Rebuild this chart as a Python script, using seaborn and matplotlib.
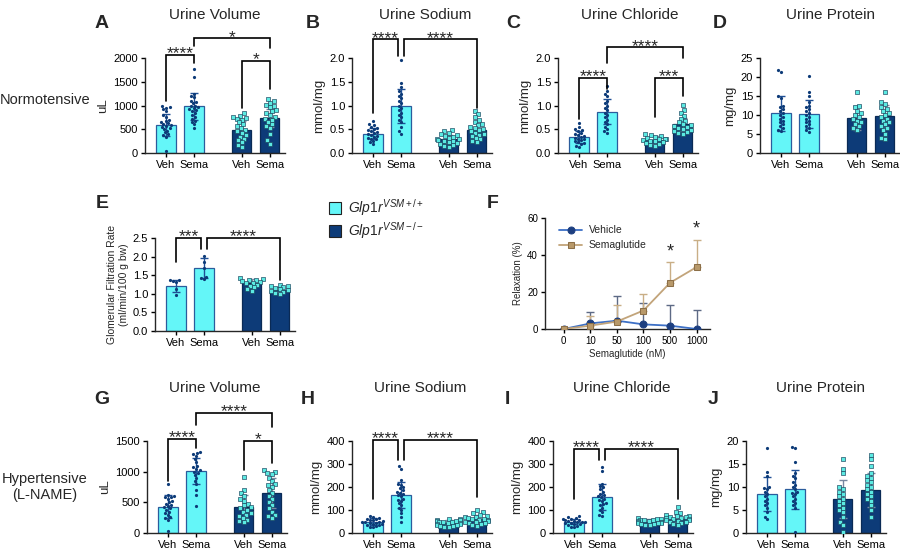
import warnings
import numpy as np
import pandas as pd
import seaborn as sns
from matplotlib import pyplot as plt
from matplotlib.patches import Patch

warnings.filterwarnings('ignore')

# group order in every bar panel: Veh(+/+), Sema(+/+), Veh(-/-), Sema(-/-)
pos = [0, 1, 2.7, 3.7]
xticklabels = ['Veh', 'Sema', 'Veh', 'Sema']

# --- Normotensive ---
a_pts = [[980, 960, 950, 920, 880, 800, 760, 700, 680, 640, 620, 600, 580, 560, 540, 520, 500, 470, 430, 400, 370, 340, 30],
         [1770, 1600, 1250, 1200, 1180, 1100, 1080, 1050, 1000, 980, 960, 940, 920, 900, 880, 840, 800, 760, 720, 680, 650, 600, 530],
         [840, 780, 760, 740, 720, 700, 640, 600, 560, 520, 480, 450, 420, 380, 340, 300, 260, 220, 160, 120],
         [1140, 1100, 1060, 1020, 980, 960, 900, 880, 840, 800, 760, 720, 700, 650, 600, 560, 520, 400, 260, 190]]
a_mean = [585, 980, 490, 735]
a_sd = [240, 290, 180, 190]

b_pts = [[0.67, 0.60, 0.58, 0.55, 0.52, 0.50, 0.48, 0.46, 0.44, 0.42, 0.40, 0.38, 0.36, 0.34, 0.32, 0.30, 0.28, 0.25, 0.22, 0.18],
         [1.96, 1.47, 1.40, 1.30, 1.25, 1.20, 1.15, 1.10, 1.05, 1.00, 0.95, 0.90, 0.85, 0.80, 0.75, 0.70, 0.65, 0.55, 0.45, 0.40],
         [0.48, 0.45, 0.42, 0.40, 0.38, 0.36, 0.34, 0.32, 0.30, 0.28, 0.26, 0.25, 0.24, 0.22, 0.20, 0.18, 0.16, 0.14, 0.12],
         [0.88, 0.82, 0.75, 0.70, 0.65, 0.60, 0.58, 0.55, 0.52, 0.50, 0.48, 0.45, 0.42, 0.40, 0.38, 0.35, 0.32, 0.28, 0.25, 0.22]]
b_mean = [0.40, 0.99, 0.29, 0.49]
b_sd = [0.12, 0.37, 0.09, 0.18]

c_pts = [[0.62, 0.55, 0.50, 0.48, 0.45, 0.42, 0.40, 0.38, 0.36, 0.34, 0.32, 0.30, 0.28, 0.26, 0.24, 0.22, 0.20, 0.18, 0.15, 0.12],
         [1.42, 1.30, 1.25, 1.20, 1.10, 1.05, 1.00, 0.95, 0.90, 0.85, 0.80, 0.75, 0.70, 0.65, 0.60, 0.55, 0.50, 0.45, 0.42],
         [0.40, 0.38, 0.36, 0.34, 0.32, 0.30, 0.29, 0.28, 0.26, 0.25, 0.24, 0.22, 0.20, 0.18, 0.16, 0.14],
         [1.02, 0.90, 0.84, 0.78, 0.72, 0.68, 0.64, 0.60, 0.58, 0.56, 0.54, 0.52, 0.50, 0.48, 0.46, 0.44, 0.42, 0.40]]
c_mean = [0.33, 0.87, 0.27, 0.60]
c_sd = [0.12, 0.27, 0.08, 0.14]

d_pts = [[22.0, 21.5, 15.0, 14.5, 12.5, 12.0, 11.5, 11.0, 10.5, 10.0, 9.5, 9.0, 8.5, 8.0, 7.5, 7.0, 6.5, 6.0, 5.8],
         [20.2, 16.0, 15.0, 13.5, 12.5, 12.0, 11.5, 11.0, 10.5, 10.0, 9.5, 9.0, 8.5, 8.0, 7.5, 7.0, 6.5, 6.0, 5.5],
         [16.0, 12.5, 12.0, 11.0, 10.5, 10.0, 9.5, 9.0, 8.5, 8.0, 7.5, 7.0, 6.5, 6.0],
         [16.0, 13.5, 13.0, 12.0, 11.5, 11.0, 10.5, 10.0, 9.5, 9.0, 8.5, 8.0, 7.5, 7.0, 6.5, 6.0, 5.0, 4.0, 3.5]]
d_mean = [10.4, 10.3, 9.2, 9.6]
d_sd = [4.6, 3.7, 3.1, 3.1]

e_pts = [[1.38, 1.36, 1.34, 1.32, 1.12, 0.96],
         [2.02, 1.86, 1.70, 1.46, 1.42, 1.39],
         [1.42, 1.40, 1.38, 1.36, 1.35, 1.33, 1.30, 1.28, 1.25, 1.22, 1.18, 1.12, 1.08],
         [1.24, 1.22, 1.20, 1.18, 1.15, 1.12, 1.10, 1.08, 1.06, 1.02, 1.00]]
e_mean = [1.21, 1.69, 1.30, 1.11]
e_sd = [0.15, 0.27, 0.10, 0.07]

# --- vessel relaxation (F) ---
doses = ['0', '10', '50', '100', '500', '1000']
veh_relax = [0, 3.0, 4.5, 2.5, 1.8, 0]
veh_relax_sd = [0, 6.0, 13.5, 11.5, 11.3, 10.5]
sema_relax = [0, 1.8, 4.0, 10.0, 25.0, 33.5]
sema_relax_sd = [0, 5.0, 9.0, 9.0, 11.0, 14.5]

# --- Hypertensive (L-NAME) ---
g_pts = [[800, 620, 600, 590, 580, 560, 520, 500, 480, 460, 440, 420, 400, 380, 350, 320, 300, 260, 240, 220, 30],
         [1320, 1300, 1280, 1250, 1200, 1150, 1100, 1080, 1050, 1020, 1000, 980, 950, 900, 850, 800, 700, 620, 440],
         [920, 700, 650, 600, 560, 520, 480, 450, 420, 400, 380, 350, 320, 300, 280, 250, 220, 200, 180],
         [1020, 1000, 980, 960, 900, 850, 800, 780, 750, 700, 650, 600, 550, 500, 450, 400, 350, 300, 280, 250]]
g_mean = [432, 1010, 430, 650]
g_sd = [180, 215, 190, 250]

h_pts = [[75, 70, 65, 62, 60, 58, 55, 52, 50, 48, 46, 44, 42, 40, 38, 36, 34, 30, 28, 25],
         [290, 280, 230, 215, 210, 200, 195, 185, 180, 175, 170, 165, 160, 150, 145, 140, 130, 120, 110, 100, 85, 70, 50],
         [62, 60, 58, 56, 54, 52, 50, 48, 46, 44, 42, 40, 38, 36, 34, 32, 30, 28, 26],
         [100, 90, 85, 80, 75, 70, 68, 65, 62, 60, 58, 55, 52, 50, 48, 45, 42, 38, 35, 30]]
h_mean = [50, 164, 45, 60]
h_sd = [14, 57, 12, 18]

i_pts = [[72, 68, 65, 62, 60, 58, 56, 54, 52, 50, 48, 46, 44, 42, 40, 38, 35, 32, 28, 25],
         [285, 270, 215, 205, 200, 190, 180, 170, 165, 160, 155, 150, 145, 140, 130, 125, 120, 110, 100, 90, 80, 75],
         [65, 62, 60, 58, 56, 55, 53, 52, 50, 48, 47, 45, 43, 42, 40, 38, 36, 34],
         [115, 90, 85, 80, 75, 72, 70, 68, 66, 64, 62, 60, 58, 56, 54, 50, 48, 45, 40, 35]]
i_mean = [50, 157, 50, 63]
i_sd = [12, 58, 10, 15]

j_pts = [[18.5, 13.2, 12.5, 10.0, 9.8, 9.5, 9.0, 8.5, 8.0, 7.5, 7.0, 6.5, 6.0, 5.5, 4.5, 3.5, 3.0],
         [18.8, 18.5, 15.5, 13.0, 12.5, 12.0, 11.0, 10.5, 10.0, 9.5, 9.0, 8.8, 8.5, 8.0, 7.5, 7.0, 6.5, 6.0, 5.5, 0.3],
         [16.0, 14.0, 13.0, 10.0, 9.5, 9.0, 8.5, 8.0, 7.5, 7.0, 6.5, 6.0, 5.5, 5.0, 4.5, 3.5, 2.5, 1.8, 0.2],
         [17.0, 16.0, 14.5, 13.0, 12.5, 12.0, 11.5, 11.0, 10.5, 10.0, 9.5, 9.0, 8.5, 8.0, 7.5, 7.0, 6.0, 5.0, 3.5]]
j_mean = [8.4, 9.5, 7.4, 9.3]
j_sd = [3.7, 4.3, 4.1, 3.7]

CYAN = '#64f6f8'
NAVY = '#0d3b78'
KO_DOT = '#5beae2'

sns.set_theme(style='ticks')
plt.rcParams['font.family'] = ['Liberation Sans', 'DejaVu Sans']
plt.rcParams['mathtext.fontset'] = 'custom'
plt.rcParams['mathtext.rm'] = 'Liberation Sans'
plt.rcParams['mathtext.it'] = 'Liberation Sans:italic'
plt.rcParams['axes.linewidth'] = 1.0
plt.rcParams['xtick.major.size'] = 3
plt.rcParams['ytick.major.size'] = 3
plt.rcParams['xtick.major.width'] = 1.0
plt.rcParams['ytick.major.width'] = 1.0

W, H = 900, 550
fig = plt.figure(figsize=(9, 5.5), dpi=100)


def px_axes(x0, y_top, x1, y_bot):
    return fig.add_axes([x0 / W, 1 - y_bot / H, (x1 - x0) / W, (y_bot - y_top) / H])


def bracket(ax, x1, x2, y, b1, b2, text, size=12.5):
    ax.plot([x1, x1, x2, x2], [b1, y, y, b2], color='black', lw=1.2,
            clip_on=False, solid_joinstyle='miter', zorder=5)
    ax.annotate(text, xy=((x1 + x2) / 2, y), xytext=(0, -4.5), textcoords='offset points',
                ha='center', va='bottom', fontsize=size, annotation_clip=False)


def bar_panel(x0, y_top, y_bot, pts, means, sds, ymax, ystep, ylabel, fmt='{:g}'):
    ax = px_axes(x0, y_top, x0 + 140, y_bot)
    styles = [(CYAN, '#2b5c9c', '#1f4f95', NAVY, 'o', None, 0, 2.3),
              (NAVY, '#0a2a55', '#7787a0', KO_DOT, 's', '#18405a', 0.45, 2.6)]
    for g in range(2):
        face, edge, ecol, dot, mk, dedge, dlw, dsize = styles[g]
        idx = [2 * g, 2 * g + 1]
        sns.barplot(x=[pos[i] for i in idx], y=[means[i] for i in idx], native_scale=True,
                    width=0.7, color=face, saturation=1, edgecolor=edge, linewidth=0.9,
                    errorbar=None, ax=ax)
        ax.errorbar([pos[i] for i in idx], [means[i] for i in idx], yerr=[sds[i] for i in idx],
                    fmt='none', ecolor=ecol, elinewidth=1.0, capsize=3, capthick=1.0, zorder=3)
        for i in idx:
            df = pd.DataFrame({'pos': [pos[i]] * len(pts[i]), 'val': pts[i]})
            kw = dict(edgecolor=dedge, linewidth=dlw) if dedge else dict(linewidth=0)
            sns.swarmplot(data=df, x='pos', y='val', native_scale=True, orient='x', color=dot,
                          marker=mk, size=dsize, ax=ax, zorder=4, warn_thresh=1, **kw)
    ax.set_xlim(-0.75, 4.25)
    ax.set_ylim(0, ymax)
    ticks = np.arange(0, ymax + ystep / 2, ystep)
    ax.set_yticks(ticks)
    ax.set_yticklabels([fmt.format(t) for t in ticks], fontsize=8)
    ax.set_xticks(pos)
    ax.set_xticklabels(xticklabels, fontsize=8)
    ax.tick_params(axis='both', pad=2, colors='black')
    ax.set_xlabel('')
    ax.set_ylabel(ylabel, fontsize=9.5, labelpad=3)
    sns.despine(ax=ax)
    return ax


# top row
ax_a = bar_panel(145, 58.3, 152.7, a_pts, a_mean, a_sd, 2000, 500, 'uL')
bracket(ax_a, 0, 1, 2080, 1100, 1900, '****')
bracket(ax_a, 1, 3.7, 2420, 2270, 2220, '*')
bracket(ax_a, 2.7, 3.7, 1950, 950, 1350, '*')

ax_b = bar_panel(352, 58.3, 152.7, b_pts, b_mean, b_sd, 2.0, 0.5, 'mmol/mg', '{:.1f}')
bracket(ax_b, 0, 0.9, 2.4, 0.85, 2.05, '****')
bracket(ax_b, 1.1, 3.7, 2.4, 2.05, 0.95, '****')

ax_c = bar_panel(558, 58.3, 152.7, c_pts, c_mean, c_sd, 2.0, 0.5, 'mmol/mg', '{:.1f}')
bracket(ax_c, 0, 1, 1.58, 0.72, 1.35, '****')
bracket(ax_c, 1, 3.7, 2.23, 1.9, 2.0, '****')
bracket(ax_c, 2.7, 3.7, 1.58, 0.75, 1.2, '***')

ax_d = bar_panel(760, 58.3, 152.7, d_pts, d_mean, d_sd, 25, 5, 'mg/mg')

# middle row
ax_e = bar_panel(155, 238, 331, e_pts, e_mean, e_sd, 2.5, 0.5,
                 'Glomerular Filtration Rate\n(ml/min/100 g bw)', '{:.1f}')
ax_e.yaxis.label.set_size(7.5)
bracket(ax_e, 0, 0.9, 2.5, 1.85, 2.2, '***')
bracket(ax_e, 1.1, 3.7, 2.5, 2.2, 1.38, '****')

ax_f = px_axes(545, 218, 710, 329)
xs = np.arange(len(doses))
ax_f.errorbar(xs, veh_relax, yerr=[np.zeros(len(xs)), veh_relax_sd], fmt='none',
              ecolor='#5d6a85', elinewidth=1.0, capsize=3, zorder=2)
ax_f.errorbar(xs, sema_relax, yerr=[np.zeros(len(xs)), sema_relax_sd], fmt='none',
              ecolor='#c9ae86', elinewidth=1.0, capsize=3, zorder=2)
sns.lineplot(x=xs, y=veh_relax, color='#3d70c6', lw=1.3, marker='o', markersize=5,
             markerfacecolor='#1d3f80', markeredgecolor='#1d3f80', label='Vehicle', ax=ax_f, zorder=3)
sns.lineplot(x=xs, y=sema_relax, color='#c2a47a', lw=1.3, marker='s', markersize=5,
             markerfacecolor='#b8996a', markeredgecolor='#8c6f48', label='Semaglutide', ax=ax_f, zorder=3)
ax_f.set_xlim(-0.7, 5.5)
ax_f.set_ylim(0, 60)
ax_f.set_yticks([0, 20, 40, 60])
ax_f.set_xticks(xs)
ax_f.set_xticklabels(doses)
ax_f.tick_params(axis='both', labelsize=7, pad=2, colors='black')
ax_f.set_xlabel('Semaglutide (nM)', fontsize=7, labelpad=2)
ax_f.set_ylabel('Relaxation (%)', fontsize=7, labelpad=3)
ax_f.legend(loc='upper left', bbox_to_anchor=(0.03, 1.02), frameon=False, fontsize=7.5,
            handlelength=2.2, handletextpad=0.6, labelspacing=0.5)
ax_f.annotate('*', xy=(4, 37), ha='center', va='bottom', fontsize=13)
ax_f.annotate('*', xy=(5, 49.5), ha='center', va='bottom', fontsize=13)
sns.despine(ax=ax_f)

# bottom row
ax_g = bar_panel(147, 441, 533, g_pts, g_mean, g_sd, 1500, 500, 'uL')
bracket(ax_g, 0, 1, 1530, 850, 1390, '****')
bracket(ax_g, 1, 3.7, 1960, 1760, 1730, '****')
bracket(ax_g, 2.7, 3.7, 1500, 1030, 1140, '*')

ax_h = bar_panel(352, 441, 533, h_pts, h_mean, h_sd, 400, 100, 'mmol/mg')
bracket(ax_h, 0, 0.9, 405, 150, 317, '****')
bracket(ax_h, 1.1, 3.7, 405, 317, 155, '****')

ax_i = bar_panel(553, 441, 533, i_pts, i_mean, i_sd, 400, 100, 'mmol/mg')
bracket(ax_i, 0, 0.9, 365, 150, 317, '****')
bracket(ax_i, 1.1, 3.7, 365, 317, 150, '****')

ax_j = bar_panel(746, 441, 533, j_pts, j_mean, j_sd, 20, 5, 'mg/mg')

# titles, panel letters, row labels
titles = [(215, 15, 'Urine Volume'), (425, 15, 'Urine Sodium'), (630, 15, 'Urine Chloride'),
          (830, 15, 'Urine Protein'), (215, 388, 'Urine Volume'), (420, 388, 'Urine Sodium'),
          (622, 388, 'Urine Chloride'), (820, 388, 'Urine Protein')]
for x, y, t in titles:
    fig.text(x / W, 1 - y / H, t, ha='center', va='center', fontsize=11)

letters = [(102, 24, 'A'), (313, 24, 'B'), (513, 24, 'C'), (720, 24, 'D'), (102, 203, 'E'),
           (493, 203, 'F'), (102, 400, 'G'), (308, 400, 'H'), (507, 400, 'I'), (713, 400, 'J')]
for x, y, t in letters:
    fig.text(x / W, 1 - y / H, t, ha='center', va='center', fontsize=14, fontweight='bold')

fig.text(45 / W, 1 - 100 / H, 'Normotensive', ha='center', va='center', fontsize=10.5)
fig.text(45 / W, 1 - 487 / H, 'Hypertensive\n(L-NAME)', ha='center', va='center',
         fontsize=10.5, linespacing=1.2)

handles = [Patch(facecolor=CYAN, edgecolor='#222222', lw=0.8),
           Patch(facecolor=NAVY, edgecolor='#222222', lw=0.8)]
labels = [r'$\mathit{Glp1r}^{\mathit{VSM+/+}}$', r'$\mathit{Glp1r}^{\mathit{VSM-/-}}$']
fig.legend(handles, labels, loc='upper left', bbox_to_anchor=(322 / W, 1 - 190 / H),
           frameon=False, fontsize=10, handlelength=0.9, handleheight=0.9,
           handletextpad=0.5, labelspacing=0.15, borderpad=0)

fig.savefig('out.png', dpi=100)
